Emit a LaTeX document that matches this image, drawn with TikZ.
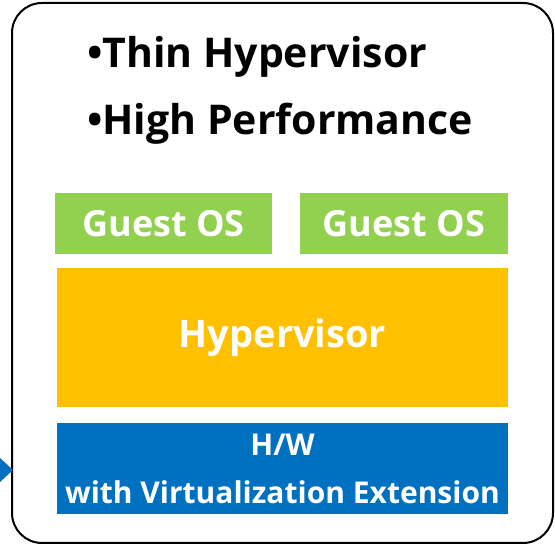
\documentclass[tikz,border=0pt]{standalone}
\usepackage{fontspec}
\setmainfont{Open Sans}
\usetikzlibrary{positioning}
\definecolor{guestgreen}{HTML}{92D050}
\definecolor{hypyellow}{HTML}{FFC000}
\definecolor{hwblue}{HTML}{0070C0}

\begin{document}
\begin{tikzpicture}[x=1pt,y=-1pt,
  layer/.style={inner sep=0pt,text=white,align=center},
  bullet/.style={anchor=base west,inner sep=0pt,font=\fontsize{41}{44}\selectfont\bfseries}]
  \useasboundingbox (0,0) rectangle (555,545);
  % outer frame
  \draw[line width=2pt,rounded corners=30pt] (12,3) rectangle (553,543);
  \fill[hwblue] (0,458) -- (13,470) -- (0,482) -- cycle;
  \node[bullet] (thin) at (87,68) {•Thin Hypervisor};
  \node[bullet] (perf) at (87,135) {•High Performance};
  \node[layer,fill=guestgreen,minimum width=217pt,minimum height=61pt,font=\fontsize{36}{38}\selectfont\bfseries] (guesta) at (163.5,223.5) {Guest OS};
  \node[layer,fill=guestgreen,minimum width=208pt,minimum height=61pt,font=\fontsize{36}{38}\selectfont\bfseries] (guestb) at (404,223.5) {Guest OS};
  \node[layer,fill=hypyellow,minimum width=451pt,minimum height=139pt,font=\fontsize{38}{40}\selectfont\bfseries] (hyp) at (282.5,337.5) {Hypervisor};
  \node[layer,fill=hwblue,minimum width=451pt,minimum height=91pt,font=\fontsize{30}{48}\selectfont\bfseries] (hw) at (282.5,468.5) {H/W\\with Virtualization Extension};
\end{tikzpicture}
\end{document}
